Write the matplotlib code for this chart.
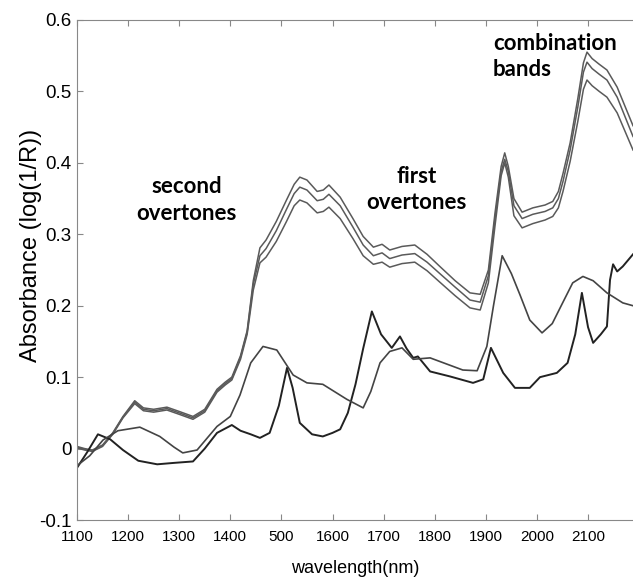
import matplotlib
matplotlib.use("Agg")
import matplotlib.pyplot as plt

# three replicate spectra (upper group)
wl_a = [1100, 1115, 1130, 1150, 1170, 1190, 1213, 1230, 1250, 1276, 1300, 1327, 1350,
        1374, 1390, 1403, 1420, 1433, 1445, 1458, 1470, 1490, 1510, 1525, 1536, 1550,
        1570, 1582, 1593, 1615, 1640, 1660, 1680, 1697, 1712, 1736, 1761, 1785, 1810,
        1840, 1869, 1889, 1905, 1918, 1930, 1937, 1944, 1955, 1971, 1992, 2016, 2031,
        2042, 2051, 2065, 2080, 2091, 2098, 2108, 2122, 2137, 2157, 2188]
abs_a1 = [0.003, 0.000, -0.002, 0.005, 0.022, 0.045, 0.067, 0.057, 0.055, 0.058, 0.052,
          0.045, 0.055, 0.083, 0.093, 0.100, 0.130, 0.165, 0.235, 0.281, 0.292, 0.318,
          0.348, 0.370, 0.380, 0.376, 0.360, 0.362, 0.369, 0.352, 0.322, 0.297, 0.282,
          0.286, 0.278, 0.283, 0.285, 0.272, 0.255, 0.235, 0.218, 0.216, 0.250, 0.330,
          0.395, 0.414, 0.395, 0.350, 0.331, 0.337, 0.341, 0.346, 0.360, 0.385, 0.428,
          0.490, 0.540, 0.555, 0.546, 0.538, 0.530, 0.506, 0.452]
abs_a2 = [0.002, -0.001, -0.003, 0.004, 0.021, 0.044, 0.065, 0.055, 0.053, 0.056, 0.050,
          0.043, 0.053, 0.081, 0.091, 0.098, 0.128, 0.163, 0.230, 0.270, 0.280, 0.305,
          0.335, 0.357, 0.366, 0.362, 0.347, 0.349, 0.356, 0.340, 0.310, 0.285, 0.270,
          0.274, 0.266, 0.271, 0.273, 0.261, 0.245, 0.226, 0.208, 0.205, 0.242, 0.322,
          0.388, 0.405, 0.388, 0.340, 0.322, 0.328, 0.332, 0.337, 0.350, 0.374, 0.418,
          0.478, 0.527, 0.541, 0.532, 0.524, 0.516, 0.492, 0.437]
abs_a3 = [0.001, -0.002, -0.004, 0.003, 0.020, 0.043, 0.063, 0.053, 0.051, 0.054, 0.048,
          0.041, 0.051, 0.079, 0.089, 0.096, 0.125, 0.160, 0.222, 0.260, 0.268, 0.290,
          0.318, 0.340, 0.348, 0.344, 0.330, 0.332, 0.338, 0.322, 0.294, 0.270, 0.258,
          0.261, 0.254, 0.259, 0.261, 0.249, 0.233, 0.214, 0.197, 0.194, 0.232, 0.312,
          0.382, 0.400, 0.380, 0.326, 0.309, 0.315, 0.320, 0.325, 0.337, 0.360, 0.402,
          0.458, 0.503, 0.516, 0.508, 0.500, 0.492, 0.470, 0.418]

# spectrum with sharp peaks
wl_b = [1100, 1120, 1141, 1165, 1190, 1220, 1257, 1290, 1327, 1350, 1374, 1403, 1420,
        1440, 1458, 1477, 1495, 1511, 1522, 1536, 1560, 1581, 1600, 1615, 1630, 1645,
        1660, 1677, 1695, 1716, 1732, 1745, 1758, 1767, 1791, 1830, 1875, 1895, 1910,
        1934, 1957, 1986, 2006, 2039, 2060, 2075, 2088, 2100, 2110, 2125, 2137, 2143,
        2149, 2157, 2168, 2188]
abs_b = [-0.027, -0.005, 0.020, 0.013, -0.002, -0.017, -0.022, -0.020, -0.018, 0.000,
         0.022, 0.033, 0.025, 0.020, 0.015, 0.022, 0.060, 0.113, 0.085, 0.036, 0.020,
         0.017, 0.022, 0.027, 0.050, 0.090, 0.140, 0.192, 0.160, 0.141, 0.157, 0.140,
         0.127, 0.129, 0.108, 0.101, 0.092, 0.097, 0.141, 0.106, 0.085, 0.085, 0.100,
         0.106, 0.120, 0.160, 0.218, 0.170, 0.148, 0.160, 0.171, 0.236, 0.258, 0.248,
         0.255, 0.272]

# smooth spectrum
wl_c = [1100, 1125, 1151, 1180, 1223, 1262, 1290, 1307, 1335, 1374, 1400, 1419, 1440,
        1464, 1491, 1523, 1550, 1581, 1628, 1660, 1675, 1693, 1712, 1736, 1758, 1791,
        1855, 1883, 1902, 1915, 1932, 1950, 1967, 1986, 2010, 2030, 2051, 2070, 2090,
        2110, 2137, 2168, 2188]
abs_c = [-0.024, -0.010, 0.012, 0.025, 0.030, 0.017, 0.002, -0.006, -0.002, 0.031,
         0.045, 0.075, 0.120, 0.143, 0.138, 0.103, 0.092, 0.090, 0.069, 0.057, 0.080,
         0.120, 0.136, 0.141, 0.125, 0.127, 0.110, 0.109, 0.143, 0.200, 0.270, 0.245,
         0.215, 0.180, 0.162, 0.175, 0.205, 0.232, 0.241, 0.235, 0.218, 0.204, 0.200]

x_ticks = [1100, 1200, 1300, 1400, 1500, 1600, 1700, 1800, 1900, 2000, 2100]
x_tick_labels = ['1100', '1200', '1300', '1400', '500', '1600', '1700', '1800',
                 '1900', '2000', '2100']
y_ticks = [-0.1, 0, 0.1, 0.2, 0.3, 0.4, 0.5, 0.6]
y_tick_labels = ['-0.1', '0', '0.1', '0.2', '0.3', '0.4', '0.5', '0.6']

plt.rcParams['font.family'] = ['Liberation Sans', 'DejaVu Sans']

fig = plt.figure(figsize=(6.33, 5.78), dpi=100)
ax = fig.add_axes([0.1216, 0.1003, 0.8784, 0.8651])

for y in (abs_a1, abs_a2, abs_a3):
    ax.plot(wl_a, y, color='#5a5a5a', lw=1.1)
ax.plot(wl_b, abs_b, color='#222222', lw=1.4)
ax.plot(wl_c, abs_c, color='#444444', lw=1.2)

ax.set_xlim(1100, 2188)
ax.set_ylim(-0.1, 0.6)
ax.set_xticks(x_ticks)
ax.set_xticklabels(x_tick_labels, fontsize=11)
ax.set_yticks(y_ticks)
ax.set_yticklabels(y_tick_labels, fontsize=13.5)
ax.tick_params(direction='in', top=True, length=4, color='#888888')
ax.tick_params(axis='x', pad=7)
ax.tick_params(axis='y', pad=4)
for s in ax.spines.values():
    s.set_color('#888888')
ax.spines['right'].set_visible(False)

ax.set_xlabel('wavelength(nm)', fontsize=13, labelpad=12)
ax.set_ylabel('Absorbance (log(1/R))', fontsize=17)
ax.yaxis.set_label_coords(-0.062, 0.55)

lab = dict(family='Lato', fontweight='bold', fontsize=16, linespacing=1.3)
ax.text(1315, 0.348, 'second\novertones', ha='center', va='center', **lab)
ax.text(1765, 0.363, 'first\novertones', ha='center', va='center', **lab)
ax.text(1914, 0.549, 'combination\nbands', ha='left', va='center', **lab)

plt.savefig('out.png', dpi=100)
